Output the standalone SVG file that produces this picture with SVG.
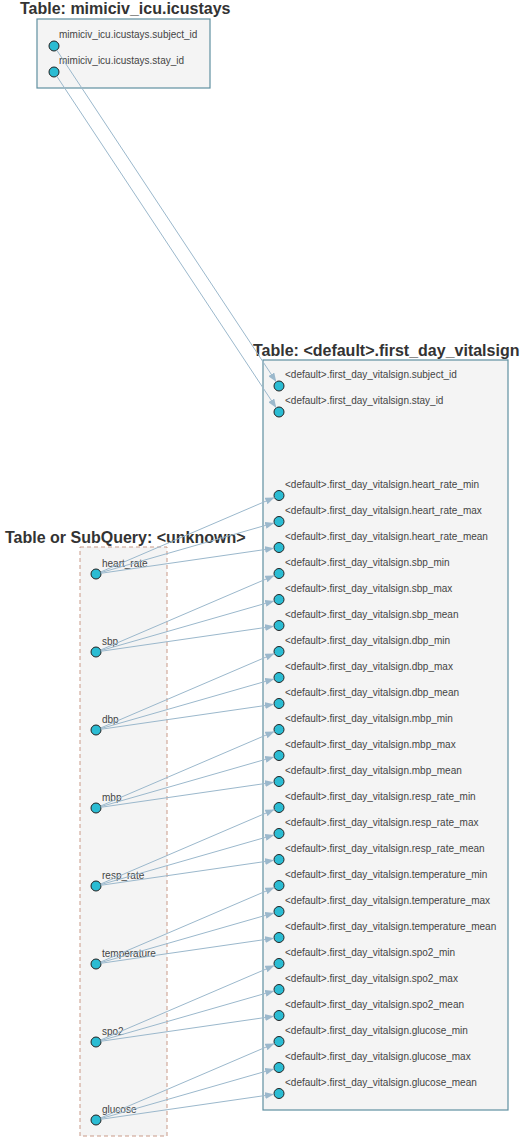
<svg xmlns="http://www.w3.org/2000/svg" width="522" height="1139" viewBox="0 0 522 1139">
<style>
.title{font-family:"Liberation Sans",Arial,sans-serif;font-size:16px;font-weight:bold;fill:#333}
.lbl{font-family:"Liberation Sans",Arial,sans-serif;font-size:10px;fill:#444}
.tbl{fill:#f4f4f4;stroke:#5f8fa0;stroke-width:1.2}
.sub{fill:#f4f4f4;stroke:#c99a88;stroke-width:1;stroke-dasharray:4,3}
.pt{fill:#2bbcd3;stroke:#222;stroke-width:1}
.edge line{stroke:#9bb8cc;stroke-width:1;fill:none;marker-end:url(#arr)}
</style>
<defs>
<marker id="arr" markerUnits="userSpaceOnUse" markerWidth="9" markerHeight="7" refX="9" refY="3.5" orient="auto">
<path d="M0,0 L9,3.5 L0,7 z" fill="#9bb8cc"/>
</marker>
</defs>
<rect width="522" height="1139" fill="#fff"/>
<g id="icustays">
<text class="title" x="20" y="14">Table: mimiciv_icu.icustays</text>
<rect class="tbl" x="37" y="19" width="173" height="69"/>
<text class="lbl" x="59" y="37.5">mimiciv_icu.icustays.subject_id</text>
<circle class="pt" cx="54" cy="46" r="5"/>
<text class="lbl" x="59" y="63.5">mimiciv_icu.icustays.stay_id</text>
<circle class="pt" cx="54" cy="72" r="5"/>
</g>
<g id="first_day_vitalsign">
<text class="title" x="253" y="356">Table: &lt;default&gt;.first_day_vitalsign</text>
<rect class="tbl" x="263" y="360" width="245" height="750"/>
<text class="lbl" x="285" y="378">&lt;default&gt;.first_day_vitalsign.subject_id</text>
<circle class="pt" cx="279" cy="386" r="5"/>
<text class="lbl" x="285" y="404">&lt;default&gt;.first_day_vitalsign.stay_id</text>
<circle class="pt" cx="279" cy="412" r="5"/>
<text class="lbl" x="285" y="487.5">&lt;default&gt;.first_day_vitalsign.heart_rate_min</text>
<circle class="pt" cx="279" cy="495.5" r="5"/>
<text class="lbl" x="285" y="513.5">&lt;default&gt;.first_day_vitalsign.heart_rate_max</text>
<circle class="pt" cx="279" cy="521.5" r="5"/>
<text class="lbl" x="285" y="539.5">&lt;default&gt;.first_day_vitalsign.heart_rate_mean</text>
<circle class="pt" cx="279" cy="547.5" r="5"/>
<text class="lbl" x="285" y="565.5">&lt;default&gt;.first_day_vitalsign.sbp_min</text>
<circle class="pt" cx="279" cy="573.5" r="5"/>
<text class="lbl" x="285" y="591.5">&lt;default&gt;.first_day_vitalsign.sbp_max</text>
<circle class="pt" cx="279" cy="599.5" r="5"/>
<text class="lbl" x="285" y="617.5">&lt;default&gt;.first_day_vitalsign.sbp_mean</text>
<circle class="pt" cx="279" cy="625.5" r="5"/>
<text class="lbl" x="285" y="643.5">&lt;default&gt;.first_day_vitalsign.dbp_min</text>
<circle class="pt" cx="279" cy="651.5" r="5"/>
<text class="lbl" x="285" y="669.5">&lt;default&gt;.first_day_vitalsign.dbp_max</text>
<circle class="pt" cx="279" cy="677.5" r="5"/>
<text class="lbl" x="285" y="695.5">&lt;default&gt;.first_day_vitalsign.dbp_mean</text>
<circle class="pt" cx="279" cy="703.5" r="5"/>
<text class="lbl" x="285" y="721.5">&lt;default&gt;.first_day_vitalsign.mbp_min</text>
<circle class="pt" cx="279" cy="729.5" r="5"/>
<text class="lbl" x="285" y="747.5">&lt;default&gt;.first_day_vitalsign.mbp_max</text>
<circle class="pt" cx="279" cy="755.5" r="5"/>
<text class="lbl" x="285" y="773.5">&lt;default&gt;.first_day_vitalsign.mbp_mean</text>
<circle class="pt" cx="279" cy="781.5" r="5"/>
<text class="lbl" x="285" y="799.5">&lt;default&gt;.first_day_vitalsign.resp_rate_min</text>
<circle class="pt" cx="279" cy="807.5" r="5"/>
<text class="lbl" x="285" y="825.5">&lt;default&gt;.first_day_vitalsign.resp_rate_max</text>
<circle class="pt" cx="279" cy="833.5" r="5"/>
<text class="lbl" x="285" y="851.5">&lt;default&gt;.first_day_vitalsign.resp_rate_mean</text>
<circle class="pt" cx="279" cy="859.5" r="5"/>
<text class="lbl" x="285" y="877.5">&lt;default&gt;.first_day_vitalsign.temperature_min</text>
<circle class="pt" cx="279" cy="885.5" r="5"/>
<text class="lbl" x="285" y="903.5">&lt;default&gt;.first_day_vitalsign.temperature_max</text>
<circle class="pt" cx="279" cy="911.5" r="5"/>
<text class="lbl" x="285" y="929.5">&lt;default&gt;.first_day_vitalsign.temperature_mean</text>
<circle class="pt" cx="279" cy="937.5" r="5"/>
<text class="lbl" x="285" y="955.5">&lt;default&gt;.first_day_vitalsign.spo2_min</text>
<circle class="pt" cx="279" cy="963.5" r="5"/>
<text class="lbl" x="285" y="981.5">&lt;default&gt;.first_day_vitalsign.spo2_max</text>
<circle class="pt" cx="279" cy="989.5" r="5"/>
<text class="lbl" x="285" y="1007.5">&lt;default&gt;.first_day_vitalsign.spo2_mean</text>
<circle class="pt" cx="279" cy="1015.5" r="5"/>
<text class="lbl" x="285" y="1033.5">&lt;default&gt;.first_day_vitalsign.glucose_min</text>
<circle class="pt" cx="279" cy="1041.5" r="5"/>
<text class="lbl" x="285" y="1059.5">&lt;default&gt;.first_day_vitalsign.glucose_max</text>
<circle class="pt" cx="279" cy="1067.5" r="5"/>
<text class="lbl" x="285" y="1085.5">&lt;default&gt;.first_day_vitalsign.glucose_mean</text>
<circle class="pt" cx="279" cy="1093.5" r="5"/>
</g>
<g id="unknown">
<text class="title" x="5" y="543">Table or SubQuery: &lt;unknown&gt;</text>
<rect class="sub" x="80" y="547" width="87" height="589"/>
<text class="lbl" x="102" y="567">heart_rate</text>
<circle class="pt" cx="96" cy="574" r="5"/>
<text class="lbl" x="102" y="645">sbp</text>
<circle class="pt" cx="96" cy="652" r="5"/>
<text class="lbl" x="102" y="723">dbp</text>
<circle class="pt" cx="96" cy="730" r="5"/>
<text class="lbl" x="102" y="801">mbp</text>
<circle class="pt" cx="96" cy="808" r="5"/>
<text class="lbl" x="102" y="879">resp_rate</text>
<circle class="pt" cx="96" cy="886" r="5"/>
<text class="lbl" x="102" y="957">temperature</text>
<circle class="pt" cx="96" cy="964" r="5"/>
<text class="lbl" x="102" y="1035">spo2</text>
<circle class="pt" cx="96" cy="1042" r="5"/>
<text class="lbl" x="102" y="1113">glucose</text>
<circle class="pt" cx="96" cy="1120" r="5"/>
</g>
<g id="connectors" class="edge">
<line x1="56.76" y1="50.17" x2="276.24" y2="381.83"/>
<line x1="56.76" y1="76.17" x2="276.24" y2="407.83"/>
<line x1="100.6" y1="572.03" x2="274.4" y2="497.47"/>
<line x1="100.81" y1="572.62" x2="274.19" y2="522.88"/>
<line x1="100.95" y1="573.28" x2="274.05" y2="548.22"/>
<line x1="100.6" y1="650.03" x2="274.4" y2="575.47"/>
<line x1="100.81" y1="650.62" x2="274.19" y2="600.88"/>
<line x1="100.95" y1="651.28" x2="274.05" y2="626.22"/>
<line x1="100.6" y1="728.03" x2="274.4" y2="653.47"/>
<line x1="100.81" y1="728.62" x2="274.19" y2="678.88"/>
<line x1="100.95" y1="729.28" x2="274.05" y2="704.22"/>
<line x1="100.6" y1="806.03" x2="274.4" y2="731.47"/>
<line x1="100.81" y1="806.62" x2="274.19" y2="756.88"/>
<line x1="100.95" y1="807.28" x2="274.05" y2="782.22"/>
<line x1="100.6" y1="884.03" x2="274.4" y2="809.47"/>
<line x1="100.81" y1="884.62" x2="274.19" y2="834.88"/>
<line x1="100.95" y1="885.28" x2="274.05" y2="860.22"/>
<line x1="100.6" y1="962.03" x2="274.4" y2="887.47"/>
<line x1="100.81" y1="962.62" x2="274.19" y2="912.88"/>
<line x1="100.95" y1="963.28" x2="274.05" y2="938.22"/>
<line x1="100.6" y1="1040.03" x2="274.4" y2="965.47"/>
<line x1="100.81" y1="1040.62" x2="274.19" y2="990.88"/>
<line x1="100.95" y1="1041.28" x2="274.05" y2="1016.22"/>
<line x1="100.6" y1="1118.03" x2="274.4" y2="1043.47"/>
<line x1="100.81" y1="1118.62" x2="274.19" y2="1068.88"/>
<line x1="100.95" y1="1119.28" x2="274.05" y2="1094.22"/>
</g>
</svg>
